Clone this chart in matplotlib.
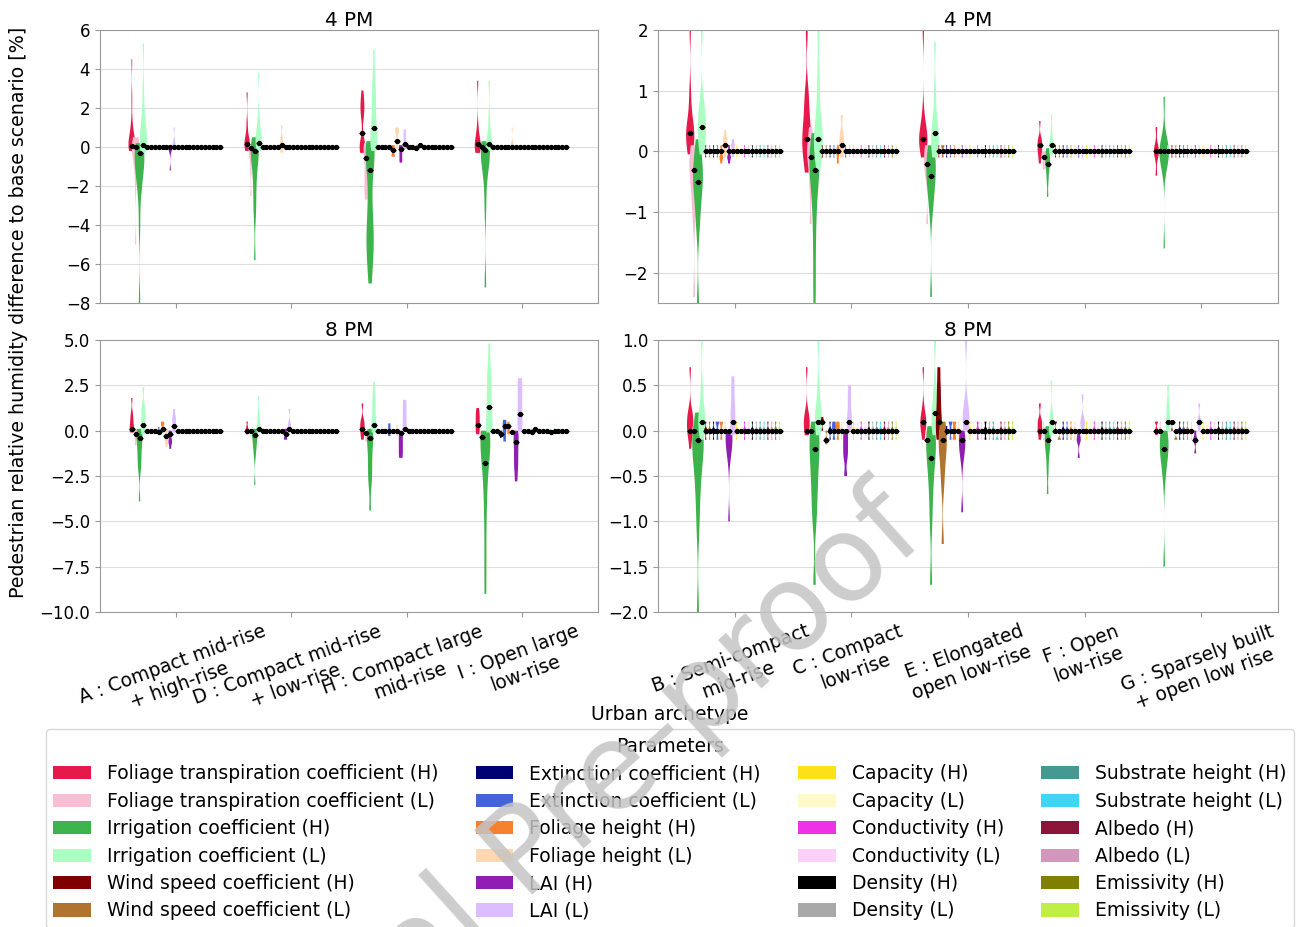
import numpy as np
import matplotlib.pyplot as plt
from matplotlib.patches import Patch

plt.rcParams['font.size'] = 12

# parameters (hue order) and colours
params = ['Foliage transpiration coefficient (H)', 'Foliage transpiration coefficient (L)',
          'Irrigation coefficient (H)', 'Irrigation coefficient (L)',
          'Wind speed coefficient (H)', 'Wind speed coefficient (L)',
          'Extinction coefficient (H)', 'Extinction coefficient (L)',
          'Foliage height (H)', 'Foliage height (L)', 'LAI (H)', 'LAI (L)',
          'Capacity (H)', 'Capacity (L)', 'Conductivity (H)', 'Conductivity (L)',
          'Density (H)', 'Density (L)', 'Substrate height (H)', 'Substrate height (L)',
          'Albedo (H)', 'Albedo (L)', 'Emissivity (H)', 'Emissivity (L)']
colors = ['#e6194b', '#fabed4', '#3cb44b', '#aaffc3', '#800000', '#b07330',
          '#000075', '#4363d8', '#f58231', '#ffd8b1', '#911eb4', '#dcbeff',
          '#ffe119', '#fffac8', '#f032e6', '#fcd0f8', '#000000', '#a9a9a9',
          '#469990', '#42d4f4', '#8b1538', '#d197bd', '#808000', '#bfef45']

left_labels = ['A : Compact mid-rise\n+ high-rise', 'D : Compact mid-rise\n+ low-rise',
               'H : Compact large\nmid-rise', 'I : Open large\nlow-rise']
right_labels = ['B : Semi-compact\nmid-rise', 'C : Compact\nlow-rise', 'E : Elongated\nopen low-rise',
                'F : Open\nlow-rise', 'G : Sparsely built\n+ open low rise']

# small default sample for the parameters that hardly change anything
tiny = [-0.1, 0, 0, 0, 0.1]

# ---- 4 PM, left group ----
A_4pm_mean = [0.05, 0, -0.3, 0.1] + [0] * 20
A_4pm_vals = {0: [-0.2, -0.1, 0, 0, 0.05, 0.1, 0.2, 0.3, 0.5, 0.8, 1.2, 2.5, 4.5],
              1: [-5, -2, -1, -0.6, -0.3, -0.1, 0, 0, 0.1, 0.3, 0.5],
              2: [-8, -4, -2.2, -1.8, -1.3, -1, -0.7, -0.5, -0.3, -0.1, 0, 0.2],
              3: [-0.3, -0.1, 0, 0.2, 0.4, 0.6, 0.9, 1.3, 1.9, 3.0, 5.3],
              10: [-1.2, -0.2, 0, 0, 0.1], 11: [-0.1, 0, 0, 0.3, 1.0]}
D_4pm_mean = [0.15, -0.05, -0.2, 0.2, 0, 0, 0, 0, 0, 0.1] + [0] * 14
D_4pm_vals = {0: [-0.2, 0, 0.1, 0.2, 0.3, 0.5, 1.2, 2.8],
              1: [-2.5, -1.2, -0.5, -0.2, 0, 0, 0.1],
              2: [-5.8, -3.5, -2.8, -2.0, -1.4, -0.9, -0.5, -0.3, -0.1, 0, 0.2, 0.5],
              3: [-0.2, 0, 0.1, 0.3, 0.5, 0.7, 0.9, 1.6, 3.8],
              9: [-0.3, 0, 0, 0.2, 0.5, 1.1]}
H_4pm_mean = [0.7, -0.55, -1.2, 1.0, 0, 0, 0, 0, -0.15, 0.3, -0.1, 0.15, 0, 0, -0.05, 0.1] + [0] * 8
H_4pm_vals = {0: [-0.3, -0.1, 0, 0, 0.1, 0.3, 1.5, 1.8, 2.0, 2.2, 2.5, 2.9],
              1: [-2.7, -2.3, -2.0, -1.6, -1.2, -0.8, -0.4, -0.1, 0, 0.2],
              2: [-7.0, -6.0, -5.5, -5.0, -4.5, -4.0, -3.4, -2.5, -1.5, -0.8, -0.4, -0.1, 0, 0.3],
              3: [-0.2, 0, 0.2, 0.4, 0.7, 1.0, 1.5, 2.0, 2.5, 3.0, 3.6, 5.0],
              8: [-0.5, -0.4, -0.2, 0, 0.1], 9: [-0.1, 0.2, 0.6, 0.8, 0.9, 1.0],
              10: [-0.8, -0.6, -0.4, -0.2, 0, 0.1], 11: [-0.1, 0, 0.3, 0.6, 0.9]}
I_4pm_mean = [0.15, 0, -0.15, 0.15] + [0] * 20
I_4pm_vals = {0: [-0.3, -0.1, 0, 0.1, 0.2, 0.4, 1.0, 3.4],
              1: [-0.8, -0.3, -0.1, 0, 0, 0.1],
              2: [-7.2, -3, -1.3, -0.8, -0.5, -0.2, 0, 0.1, 0.3],
              3: [-0.2, 0, 0.1, 0.3, 0.6, 1.5, 3.4],
              9: [-0.1, 0, 0, 0.2, 1.0]}

# ---- 4 PM, right group ----
B_4pm_mean = [0.3, -0.3, -0.5, 0.4, 0, 0, 0, 0, 0, 0.1] + [0] * 14
B_4pm_vals = {0: [-0.05, 0, 0.1, 0.2, 0.25, 0.3, 0.35, 0.4, 0.5, 0.7, 1.0, 2.0],
              1: [-2.4, -1.1, -0.8, -0.6, -0.4, -0.3, -0.2, -0.1, 0, 0.1],
              2: [-2.5, -1.3, -1.0, -0.8, -0.6, -0.5, -0.4, -0.3, -0.2, 0, 0.2],
              3: [-0.05, 0.1, 0.2, 0.3, 0.4, 0.5, 0.6, 0.7, 0.9, 2.0],
              8: [-0.2, -0.1, -0.1, 0, 0.1], 9: [-0.1, 0, 0.1, 0.2, 0.2, 0.35],
              10: [-0.2, -0.1, -0.1, 0, 0.1], 11: [-0.1, 0, 0.1, 0.1, 0.2]}
C_4pm_mean = [0.2, -0.1, -0.3, 0.2, 0, 0, 0, 0, 0, 0.1] + [0] * 14
C_4pm_vals = {0: [-0.35, -0.1, 0, 0.1, 0.2, 0.3, 0.4, 0.6, 0.8, 1.0, 2.0],
              1: [-1.2, -0.6, -0.3, -0.1, 0, 0, 0.2, 0.4],
              2: [-2.5, -2.0, -1.5, -1.1, -0.8, -0.6, -0.4, -0.3, -0.2, -0.1, 0, 0.1, 0.3],
              3: [-0.3, -0.1, 0, 0.1, 0.2, 0.3, 0.4, 0.6, 0.9, 1.3, 2.0],
              8: [-0.2, -0.1, 0, 0, 0.1], 9: [-0.1, 0, 0.1, 0.2, 0.3, 0.6]}
E_4pm_mean = [0.2, -0.2, -0.4, 0.3] + [0] * 20
E_4pm_vals = {0: [-0.1, 0.05, 0.1, 0.15, 0.2, 0.25, 0.3, 0.35, 0.6, 2.0],
              1: [-1.2, -0.4, -0.3, -0.2, -0.1, 0, 0.1],
              2: [-2.4, -1.0, -0.8, -0.6, -0.5, -0.4, -0.3, -0.2, -0.1, 0, 0.1],
              3: [-0.1, 0, 0.1, 0.2, 0.3, 0.4, 0.6, 1.0, 1.8],
              5: [-0.1, 0, 0.1, 0.1]}
F_4pm_mean = [0.1, -0.1, -0.2, 0.1] + [0] * 20
F_4pm_vals = {0: [-0.2, -0.1, 0, 0, 0.1, 0.1, 0.2, 0.2, 0.5],
              1: [-0.3, -0.2, -0.1, 0, 0],
              2: [-0.75, -0.5, -0.35, -0.25, -0.2, -0.15, -0.1, 0, 0.05],
              3: [-0.05, 0, 0.05, 0.1, 0.15, 0.2, 0.35, 0.6]}
G_4pm_mean = [0] * 24
G_4pm_vals = {0: [-0.4, -0.1, 0, 0, 0.1, 0.4],
              2: [-1.6, -0.3, -0.2, -0.1, -0.05, 0, 0, 0.05, 0.1, 0.2, 0.9],
              3: [-0.05, 0, 0, 0.05, 0.1]}

# ---- 8 PM, left group ----
A_8pm_mean = [0.1, -0.2, -0.4, 0.3, 0, 0, 0, -0.05, 0.1, -0.3, -0.2, 0.25] + [0] * 12
A_8pm_vals = {0: [-0.1, 0, 0.1, 0.3, 0.5, 0.7, 1.0, 1.8],
              1: [-0.8, -0.5, -0.3, -0.1, 0, 0.1],
              2: [-3.9, -2.2, -1.8, -1.4, -1.0, -0.7, -0.4, -0.2, 0, 0.1],
              3: [-0.2, 0, 0.2, 0.5, 0.8, 1.1, 1.4, 2.4],
              7: [-0.2, 0, 0, 0.2], 8: [-0.1, 0.1, 0.3, 0.4, 0.5],
              9: [-0.9, -0.6, -0.5, -0.3, 0, 0.1], 10: [-1.0, -0.7, -0.6, -0.4, -0.1, 0],
              11: [-0.1, 0.1, 0.4, 0.6, 0.8, 1.2]}
D_8pm_mean = [0, 0, -0.25, 0.1, 0, 0, 0, 0, 0, 0, -0.2, 0.1] + [0] * 12
D_8pm_vals = {0: [-0.2, 0, 0, 0.2, 0.5], 1: [-0.3, 0, 0, 0.1],
              2: [-3.0, -1.4, -1.0, -0.7, -0.5, -0.3, -0.1, 0, 0.1],
              3: [-0.1, 0, 0.1, 0.3, 0.6, 1.0, 1.9],
              10: [-0.5, -0.4, -0.2, 0, 0.1], 11: [-0.1, 0, 0.2, 0.4, 1.2]}
H_8pm_mean = [0.1, -0.15, -0.4, 0.3, 0, 0, 0, 0, 0, 0, -0.15, 0.1] + [0] * 12
H_8pm_vals = {0: [-0.5, -0.2, 0, 0.2, 0.4, 0.6, 1.5], 1: [-0.6, -0.4, -0.2, 0, 0],
              2: [-4.4, -3.0, -2.5, -2.0, -1.5, -1.0, -0.6, -0.3, 0, 0.1],
              3: [-0.1, 0, 0.3, 0.6, 1.0, 1.5, 1.9, 2.7],
              7: [-0.3, -0.1, 0, 0.2, 0.4], 9: [-0.3, 0, 0, 0.3],
              10: [-1.5, -1.2, -0.9, -0.6, -0.3, 0], 11: [0, 0.2, 0.5, 0.8, 1.1, 1.4, 1.7]}
I_8pm_mean = [0.3, -0.35, -1.8, 1.3, 0, 0, -0.2, 0.25, 0.25, -0.1, -0.65, 0.9,
              0, 0, -0.1, 0.1, 0, 0, 0, -0.1, 0, 0, 0, 0]
I_8pm_vals = {0: [-0.2, 0, 0.2, 0.4, 0.6, 0.8, 1.0, 1.25], 1: [-0.6, -0.5, -0.3, -0.1, 0],
              2: [-9.0, -7.0, -5.0, -3.5, -2.5, -1.8, -1.2, -0.8, -0.5, -0.3, -0.1, 0],
              3: [-0.1, 0, 0.3, 0.6, 1.0, 1.5, 2.0, 2.5, 3.0, 3.6, 4.8],
              6: [-0.4, -0.2, 0, 0], 7: [-0.6, -0.3, 0, 0.2, 0.4, 0.6],
              8: [-0.2, 0, 0.2, 0.3, 0.5],
              10: [-2.8, -2.2, -1.8, -1.4, -1.0, -0.6, -0.3, 0],
              11: [0, 0.3, 0.6, 1.0, 1.4, 1.8, 2.2, 2.6, 2.9]}

# ---- 8 PM, right group ----
B_8pm_mean = [0, 0, -0.1, 0.1, 0, 0, 0, 0, 0, 0, 0, 0.1] + [0] * 12
B_8pm_vals = {0: [-0.2, -0.05, 0, 0, 0.1, 0.1, 0.2, 0.2, 0.7], 1: [-0.2, -0.1, 0, 0, 0.1],
              2: [-2.0, -1.1, -0.8, -0.6, -0.45, -0.3, -0.2, -0.15, -0.1, -0.05, 0, 0.2],
              3: [-0.1, 0, 0.05, 0.1, 0.15, 0.2, 0.3, 0.5, 1.0],
              7: [-0.1, 0, 0.1, 0.1], 8: [-0.1, 0, 0.1, 0.1],
              10: [-1.0, -0.3, -0.2, -0.1, -0.1, 0, 0], 11: [-0.05, 0, 0.1, 0.2, 0.3, 0.45, 0.6]}
C_8pm_mean = [0, 0, -0.2, 0.1, 0.1, -0.1, 0, 0, 0, 0, 0, 0.1] + [0] * 12
C_8pm_vals = {0: [-0.05, 0, 0.05, 0.1, 0.15, 0.2, 0.7], 1: [-0.2, -0.1, 0, 0],
              2: [-1.7, -1.0, -0.8, -0.6, -0.45, -0.3, -0.2, -0.1, 0, 0.1],
              3: [-0.05, 0, 0.1, 0.15, 0.2, 0.3, 0.5, 1.0],
              4: [0, 0.1, 0.1, 0.15], 5: [-0.15, -0.1, -0.1, 0],
              7: [-0.1, 0, 0.05, 0.1], 8: [-0.1, 0, 0.05, 0.1],
              10: [-0.5, -0.3, -0.2, -0.1, 0], 11: [0, 0.1, 0.2, 0.35, 0.5]}
E_8pm_mean = [0.1, -0.1, -0.3, 0.2, 0.1, -0.1, 0, 0, 0, 0, -0.1, 0.1] + [0] * 12
E_8pm_vals = {0: [-0.1, 0, 0.05, 0.1, 0.1, 0.15, 0.25, 0.7], 1: [-0.2, -0.1, 0, 0],
              2: [-1.7, -1.0, -0.7, -0.5, -0.35, -0.25, -0.15, -0.1, 0, 0.05],
              3: [-0.05, 0.05, 0.1, 0.2, 0.3, 0.5, 1.0],
              4: [-0.1, 0, 0.1, 0.2, 0.35, 0.5, 0.7],
              5: [-1.25, -0.6, -0.4, -0.25, -0.15, -0.1, 0, 0.1],
              6: [-0.05, 0, 0, 0.05], 7: [-0.1, 0, 0.1, 0.1], 8: [-0.1, 0, 0.1],
              10: [-0.9, -0.3, -0.2, -0.1, -0.1, 0], 11: [0, 0.1, 0.1, 0.2, 0.3, 1.0],
              14: [-0.1, 0, 0, 0.1], 16: [-0.1, 0, 0, 0.1], 19: [-0.1, -0.1, 0, 0]}
F_8pm_mean = [0, 0, -0.1, 0.1] + [0] * 20
F_8pm_vals = {0: [-0.1, 0, 0, 0.1, 0.1, 0.3],
              2: [-0.7, -0.45, -0.3, -0.2, -0.15, -0.1, -0.05, 0, 0.05],
              3: [-0.05, 0, 0.05, 0.1, 0.2, 0.55],
              4: [0, 0.1, 0.1], 5: [-0.1, -0.1, 0],
              10: [-0.3, -0.1, -0.1, 0], 11: [0, 0.1, 0.1, 0.4]}
G_8pm_mean = [0, 0, -0.2, 0.1, 0.1, 0, 0, 0, 0, 0, -0.1, 0.1] + [0] * 12
G_8pm_vals = {0: [-0.05, 0, 0, 0.1, 0.1],
              2: [-1.5, -0.5, -0.35, -0.25, -0.2, -0.15, -0.1, -0.05, 0],
              3: [0, 0.05, 0.1, 0.2, 0.3, 0.5],
              4: [0, 0.1, 0.1], 5: [-0.1, -0.1, 0],
              10: [-0.25, -0.1, -0.1, 0], 11: [0, 0.1, 0.1, 0.3]}


def draw_group(ax, means, vals, yrange):
    n = len(params)
    for i in range(len(means)):
        xs = i - 0.4 + 0.8 * (np.arange(n) + 0.5) / n
        for j in range(n):
            v = vals[i].get(j, tiny)
            w = min(0.1, 0.025 + 0.1 * (max(v) - min(v)) / yrange)
            vp = ax.violinplot([v], positions=[xs[j]], widths=w, showextrema=False,
                               bw_method=0.35)
            for b in vp['bodies']:
                b.set_facecolor(colors[j])
                b.set_edgecolor('none')
                b.set_linewidth(0)
                b.set_alpha(1)
        ax.plot(xs, means[i], ls='none', marker='_', color='black', ms=5, mew=1, zorder=4)
        ax.plot(xs, means[i], ls='none', marker='o', color='black', ms=2.8, zorder=5)


fig = plt.figure(figsize=(12.98, 9.27), dpi=100)
ax1 = fig.add_axes([0.0770, 0.6731, 0.3837, 0.2945])
ax2 = fig.add_axes([0.5069, 0.6731, 0.4777, 0.2945])
ax3 = fig.add_axes([0.0770, 0.3398, 0.3837, 0.2934])
ax4 = fig.add_axes([0.5069, 0.3398, 0.4777, 0.2934])

panels = [
    (ax1, [A_4pm_mean, D_4pm_mean, H_4pm_mean, I_4pm_mean],
     [A_4pm_vals, D_4pm_vals, H_4pm_vals, I_4pm_vals], left_labels, (-8, 6), np.arange(-8, 7, 2), '4 PM'),
    (ax2, [B_4pm_mean, C_4pm_mean, E_4pm_mean, F_4pm_mean, G_4pm_mean],
     [B_4pm_vals, C_4pm_vals, E_4pm_vals, F_4pm_vals, G_4pm_vals], right_labels, (-2.5, 2), np.arange(-2, 3, 1), '4 PM'),
    (ax3, [A_8pm_mean, D_8pm_mean, H_8pm_mean, I_8pm_mean],
     [A_8pm_vals, D_8pm_vals, H_8pm_vals, I_8pm_vals], left_labels, (-10, 5), np.arange(-10, 5.1, 2.5), '8 PM'),
    (ax4, [B_8pm_mean, C_8pm_mean, E_8pm_mean, F_8pm_mean, G_8pm_mean],
     [B_8pm_vals, C_8pm_vals, E_8pm_vals, F_8pm_vals, G_8pm_vals], right_labels, (-2, 1), np.arange(-2, 1.1, 0.5), '8 PM'),
]

for ax, means, vals, labels, ylim, yticks, title in panels:
    draw_group(ax, means, vals, ylim[1] - ylim[0])
    ax.set_ylim(ylim)
    ax.set_yticks(yticks)
    n = len(labels)
    ax.set_xlim(-0.66, n - 0.34)
    ax.set_xticks(range(n))
    if ax in (ax3, ax4):
        ax.set_xticklabels(labels, rotation=20, ha='center', multialignment='center', fontsize=13.5)
    else:
        ax.set_xticklabels([])
    ax.set_title(title, pad=3)
    ax.set_axisbelow(True)
    ax.yaxis.grid(True, color='#dddddd', lw=0.8)
    for sp in ax.spines.values():
        sp.set_color('#999999')
    ax.tick_params(color='#999999')

fig.text(0.014, 1 - 312 / 927, 'Pedestrian relative humidity difference to base scenario [%]',
         rotation=90, ha='center', va='center', fontsize=13.7)
fig.text(0.516, 1 - 714 / 927, 'Urban archetype', ha='center', va='center', fontsize=13.5)

handles = [Patch(facecolor=c, label=p) for c, p in zip(colors, params)]
fig.legend(handles=handles, ncol=4, title='Parameters', loc='upper center',
           bbox_to_anchor=(0.516, 1 - 720 / 927), fontsize=13.5, title_fontsize=13.5,
           handlelength=2.0, columnspacing=2.0, handletextpad=0.85, labelspacing=0.45)

# watermark
fig.text(0.415, 0.082, 'Journal Pre-proof', fontsize=86, rotation=42, color='#c4c4c4',
         alpha=0.85, ha='center', va='center', rotation_mode='anchor', zorder=10)

fig.savefig('out.png', dpi=100)
